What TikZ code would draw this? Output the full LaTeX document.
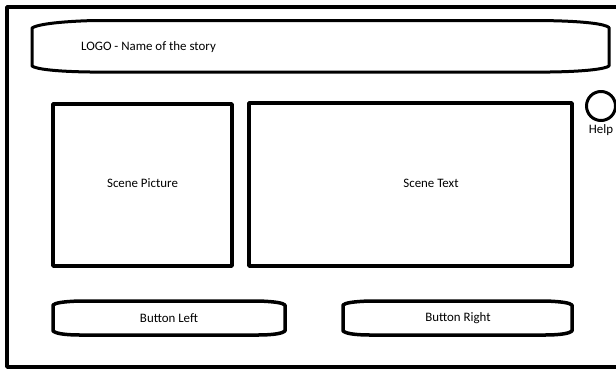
\documentclass[tikz,border=0pt]{standalone}
\usepackage{fontspec}
\setmainfont{Carlito}
\usepackage{xcolor}
\usepackage{tikz}
\definecolor{SBInk}{HTML}{000000}

\begin{document}
\begin{tikzpicture}[x=1pt,y=-1pt,
  inkline/.style={draw=SBInk,line width=3.5pt,line join=round},
  label/.style={font=\fontsize{12.9}{15}\selectfont,inner sep=0pt}]
\clip (0,0) rectangle (616,370);
% frame of the screen
\draw[inkline,line width=3.8pt] (640,7) -- (7,7) -- (7,367) -- (640,367);
% title bar
\draw[inkline,line width=3pt] (95,20.5) -- (540,20.5) .. controls (585,21) and (605,24) .. (609,27.5)
  -- (609,66) .. controls (605,69) and (585,71.5) .. (550,72) -- (90,72)
  .. controls (55,71.5) and (36,69) .. (32,66) -- (32,28) .. controls (36,25) and (55,21.5) .. (95,20.5) -- cycle;
\node[label,anchor=west] (logo) at (81,47) {LOGO - Name of the story};
% scene
\draw[inkline] (53,104) rectangle (232,266);
\node[label] (picture) at (142.5,183) {Scene Picture};
\draw[inkline] (249,103) rectangle (572,266);
\node[label] (scenetext) at (431,183) {Scene Text};
% help
\draw[inkline,line width=3pt] (601,106) circle (14.5);
\node[label] (help) at (601,130) {Help};
% buttons
\draw[inkline] (80,301) -- (258,301) .. controls (275,301.5) and (283,303) .. (285,305)
  -- (285,331) .. controls (283,333) and (275,335) .. (258,335) -- (80,335)
  .. controls (63,335) and (55,333) .. (53,331) -- (53,305) .. controls (55,303) and (63,301.5) .. (80,301) -- cycle;
\node[label] (btnleft) at (169,318) {Button Left};
\draw[inkline] (370,301) -- (545,301) .. controls (562,301.5) and (570,303) .. (572,305)
  -- (572,331) .. controls (570,333) and (562,335) .. (545,335) -- (370,335)
  .. controls (353,335) and (345,333) .. (343,331) -- (343,305) .. controls (345,303) and (353,301.5) .. (370,301) -- cycle;
\node[label] (btnright) at (458,318) {Button Right};
\end{tikzpicture}
\end{document}
